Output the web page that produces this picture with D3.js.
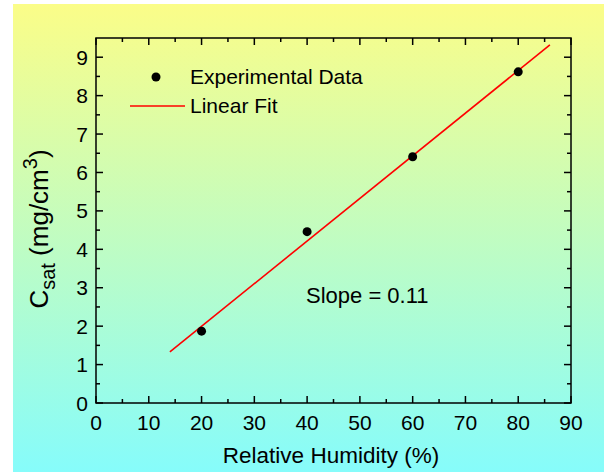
<!DOCTYPE html>
<html><head><meta charset="utf-8">
<script src="https://cdn.jsdelivr.net/npm/d3@7"></script>
<style>body{margin:0;background:#fff}svg{display:block}text{font-family:"Liberation Sans",Arial,sans-serif;fill:#000}</style>
</head><body>
<script>
const humidity = [20, 40, 60, 80];
const csat = [1.87, 4.46, 6.41, 8.62];
const fitX = [14, 86];
const fitY = [1.33, 9.32];
const xTicks = [0,10,20,30,40,50,60,70,80,90];
const yTicks = [0,1,2,3,4,5,6,7,8,9];
const xMinor = [5,15,25,35,45,55,65,75,85];
const yMinor = [0.5,1.5,2.5,3.5,4.5,5.5,6.5,7.5,8.5];

const W=609,H=475;
const svg=d3.select("body").append("svg").attr("width",W).attr("height",H);
const defs=svg.append("defs");
const g=defs.append("linearGradient").attr("id","bg").attr("x1",0).attr("y1",0).attr("x2",0).attr("y2",1);
g.append("stop").attr("offset","0%").attr("stop-color","#fbfd88");
g.append("stop").attr("offset","100%").attr("stop-color","#86fcfb");
svg.append("rect").attr("x",13).attr("y",4).attr("width",591).attr("height",468).attr("fill","url(#bg)");

const L=96,R=571,T=38,B=403;
const x=d3.scaleLinear().domain([0,90]).range([L,R]);
const y=d3.scaleLinear().domain([0,9.5]).range([B,T]);

const ax=svg.append("g").attr("stroke","#000").attr("stroke-width",1.5);
svg.append("rect").attr("x",L).attr("y",T).attr("width",R-L).attr("height",B-T).attr("fill","none").attr("stroke","#000").attr("stroke-width",1.5);
xTicks.forEach(v=>{ax.append("line").attr("x1",x(v)).attr("x2",x(v)).attr("y1",B).attr("y2",B-7);
 ax.append("line").attr("x1",x(v)).attr("x2",x(v)).attr("y1",T).attr("y2",T+7);});
xMinor.forEach(v=>{ax.append("line").attr("x1",x(v)).attr("x2",x(v)).attr("y1",B).attr("y2",B-4);
 ax.append("line").attr("x1",x(v)).attr("x2",x(v)).attr("y1",T).attr("y2",T+4);});
yTicks.forEach(v=>{ax.append("line").attr("y1",y(v)).attr("y2",y(v)).attr("x1",L).attr("x2",L+7);
 ax.append("line").attr("y1",y(v)).attr("y2",y(v)).attr("x1",R).attr("x2",R-7);});
yMinor.forEach(v=>{ax.append("line").attr("y1",y(v)).attr("y2",y(v)).attr("x1",L).attr("x2",L+4);
 ax.append("line").attr("y1",y(v)).attr("y2",y(v)).attr("x1",R).attr("x2",R-4);});

svg.append("g").selectAll("text").data(xTicks).join("text").attr("x",d=>x(d)).attr("y",B+27)
 .attr("text-anchor","middle").attr("font-size",21).text(d=>d);
svg.append("g").selectAll("text").data(yTicks).join("text").attr("x",L-8).attr("y",d=>y(d)+7.5)
 .attr("text-anchor","end").attr("font-size",21).text(d=>d);

svg.append("text").attr("x",331).attr("y",463).attr("text-anchor","middle").attr("font-size",22.5).text("Relative Humidity (%)");
const yl=svg.append("text").attr("transform","translate(48,229) rotate(-90)").attr("text-anchor","middle").attr("font-size",26);
yl.append("tspan").text("C");
yl.append("tspan").attr("font-size",20).attr("dy",7).text("sat");
yl.append("tspan").attr("dy",-7).text(" (mg/cm");
yl.append("tspan").attr("font-size",20).attr("dy",-11).text("3");
yl.append("tspan").attr("dy",11).text(")");

svg.append("line").attr("x1",x(fitX[0])).attr("y1",y(fitY[0])).attr("x2",x(fitX[1])).attr("y2",y(fitY[1]))
 .attr("stroke","#ff0000").attr("stroke-width",1.6);
svg.append("g").selectAll("circle").data(humidity).join("circle").attr("cx",d=>x(d)).attr("cy",(d,i)=>y(csat[i])).attr("r",4.5).attr("fill","#000");

svg.append("circle").attr("cx",156).attr("cy",77).attr("r",4.5).attr("fill","#000");
svg.append("text").attr("x",190).attr("y",84).attr("font-size",21).text("Experimental Data");
svg.append("line").attr("x1",130).attr("x2",185).attr("y1",106).attr("y2",106).attr("stroke","#ff0000").attr("stroke-width",1.6);
svg.append("text").attr("x",190).attr("y",113).attr("font-size",21).text("Linear Fit");

svg.append("text").attr("x",306).attr("y",303).attr("font-size",22).text("Slope = 0.11");
</script>
</body></html>
